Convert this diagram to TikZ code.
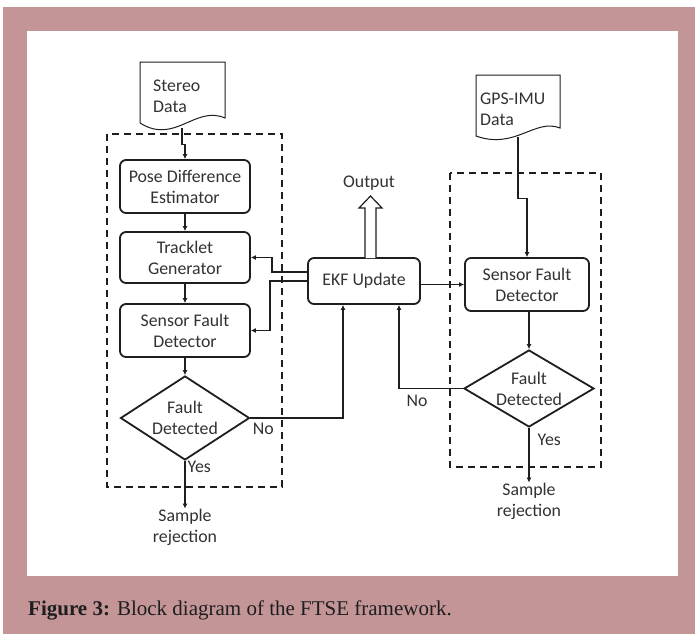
\documentclass[tikz,border=0pt]{standalone}
\usepackage{fontspec}
\setmainfont{Carlito}
\newfontfamily\capfont{Liberation Serif}
\usepackage{xcolor}
\usetikzlibrary{arrows.meta}
\usetikzlibrary{shapes.geometric}
\definecolor{frame}{RGB}{196,149,151}
\definecolor{ink}{RGB}{30,30,30}
\definecolor{txt}{RGB}{50,50,50}

\begin{document}
\begin{tikzpicture}[x=1pt,y=-1pt,
		font=\fontsize{17.8}{21}\selectfont,
		process/.style={draw=ink, line width=1.8pt, rounded corners=6pt, align=center, text=txt, inner sep=0pt},
		decision/.style={diamond, draw=ink, line width=1.8pt, align=center, text=txt, inner sep=0pt},
		doc/.style={align=left, text=txt, inner sep=0pt},
		label/.style={text=txt, align=center, inner sep=0pt},
		group/.style={draw=ink, line width=1.6pt, dash pattern=on 7pt off 5pt},
		arr/.style={draw=ink, line width=1.4pt, -{Latex[length=5pt,width=5pt]}}]
		\useasboundingbox (0,0) rectangle (695,634);
		% frame and panel
		\fill[white] (0,0) rectangle (695,634);
		\fill[frame] (3,7) rectangle (695,634);
		\fill[white] (27,31) rectangle (678,576);
		% input documents
		\draw[ink, line width=1pt] (140,62) -- (225,62) -- (225,118) .. controls (195,105) and (175,145) .. (140,123) -- cycle;
		\node[doc] (sdoc) at (182,95) [minimum width=85pt, minimum height=66pt] {};
		\node[doc, anchor=west] at (153,96) {Stereo\\Data};
		\draw[ink, line width=1pt] (476,75) -- (560,75) -- (560,128) .. controls (535,118) and (515,150) .. (476,136) -- cycle;
		\node[doc] (gdoc) at (518,105.5) [minimum width=84pt, minimum height=63pt] {};
		\node[doc, anchor=west] at (480,109) {GPS-IMU\\Data};
		% dashed groups
		\draw[group] (107,134) rectangle (282,487);
		\draw[group] (450,173) rectangle (601,467);
		% stereo branch
		\node[process, minimum width=130pt, minimum height=53pt] (pde) at (185,186.5) {Pose Difference\\Estimator};
		\node[process, minimum width=130pt, minimum height=51pt] (trk) at (185,257.5) {Tracklet\\Generator};
		\node[process, minimum width=130pt, minimum height=53pt] (lsfd) at (185,330.5) {Sensor Fault\\Detector};
		\node[decision, aspect=1.5, minimum width=129pt, minimum height=84pt] (ldec) at (185,418) {Fault\\Detected};
		\node[label] (lrej) at (185,527) {Sample\\rejection};
		% filter
		\node[process, minimum width=112pt, minimum height=46pt] (ekf) at (364,281) {EKF Update};
		\node[label] (out) at (369,183) {Output};
		\draw[ink, line width=1.2pt, fill=white] (365,258) -- (365,208) -- (359,208) -- (370.5,196) -- (382,208) -- (376,208) -- (376,258);
		% GPS-IMU branch
		\node[process, minimum width=124pt, minimum height=53pt] (rsfd) at (527,284.5) {Sensor Fault\\Detector};
		\node[decision, aspect=1.7, minimum width=130pt, minimum height=77pt] (rdec) at (529,388.5) {Fault\\Detected};
		\node[label] (rrej) at (529,501) {Sample\\rejection};
		% connectors
		\draw[arr] (sdoc.south) -- ++(0,16) -| (pde.north);
		\draw[arr] (pde) -- (trk);
		\draw[arr] (trk) -- (lsfd);
		\draw[arr] (lsfd) -- (ldec);
		\draw[arr] (ldec) -- (lrej) node[pos=0.12, right, label, xshift=2pt] {Yes};
		\draw[arr] (ldec.east) -| ([xshift=-21pt]ekf.south) node[pos=0.07, below, label, yshift=-4pt] {No};
		\draw[arr] ([yshift=9pt]ekf.west) -- ++(-35,0) |- (trk.east);
		\draw[arr] (ekf.west) -- ++(-37,0) |- (lsfd.east);
		\draw[arr] (ekf.east |- rsfd.west) -- (rsfd.west);
		\draw[arr] (gdoc.south) -- ++(0,61) -| (rsfd.north);
		\draw[arr] (rsfd.south -| rdec.north) -- (rdec.north);
		\draw[arr] (rdec) -- (rrej) node[pos=0.22, right, label, xshift=8pt] {Yes};
		\draw[arr] (rdec.west) -| ([xshift=35pt]ekf.south) node[pos=0.36, below, label, yshift=-6pt] {No};
		% caption
		\node[anchor=base west, inner sep=0pt, text=ink, font=\capfont\fontsize{21}{25}\selectfont] (cap) at (28,615) {\textbf{Figure 3:} Block diagram of the FTSE framework.};
	\end{tikzpicture}
\end{document}
